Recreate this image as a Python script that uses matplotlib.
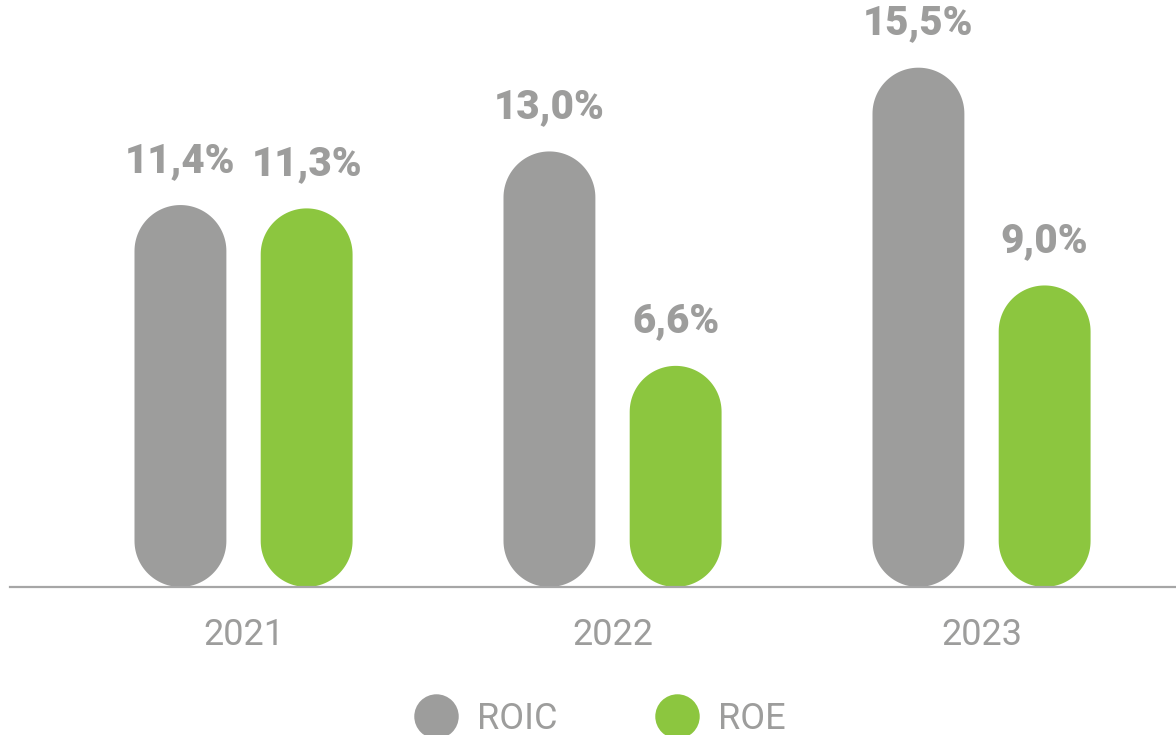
import matplotlib.pyplot as plt
from matplotlib.patches import Polygon
from matplotlib.lines import Line2D
import numpy as np

years = ["2021", "2022", "2023"]
roic = [11.4, 13.0, 15.5]
roe = [11.3, 6.6, 9.0]
roic_labels = ["11,4%", "13,0%", "15,5%"]
roe_labels = ["11,3%", "6,6%", "9,0%"]

GRAY = "#9d9d9c"
GREEN = "#8cc63f"
TEXT = "#9d9d9c"

W, H = 1176, 735
fig = plt.figure(figsize=(W / 100, H / 100), dpi=100)
ax = fig.add_axes([0, 0, 1, 1])
x0, x1 = -0.66, 2.527
y0, y1 = -4.418, 17.52
ax.set_xlim(x0, x1)
ax.set_ylim(y0, y1)
ax.axis("off")

# pixels per data unit, used to make the ends true half circles
px_x = W / (x1 - x0)
px_y = H / (y1 - y0)

width = 0.249
off = 0.171
x = np.arange(len(years))


def pill(xc, val, color):
    r = width / 2
    ry = r * px_x / px_y
    t = np.linspace(0, np.pi, 60)
    top = np.column_stack([xc + r * np.cos(t), val - ry + ry * np.sin(t)])
    bot = np.column_stack([xc - r * np.cos(t), ry - ry * np.sin(t)])
    ax.add_patch(Polygon(np.vstack([top, bot]), closed=True, fc=color,
                         ec="none", zorder=2))


lab = dict(textcoords="offset points", ha="center", va="baseline",
           fontsize=29, fontweight="black", family="Roboto", color=TEXT)
for i in range(len(years)):
    pill(x[i] - off, roic[i], GRAY)
    pill(x[i] + off, roe[i], GREEN)
    ax.annotate(roic_labels[i], (x[i] - off, roic[i]), xytext=(0, 24), **lab)
    ax.annotate(roe_labels[i], (x[i] + off, roe[i]), xytext=(0, 24), **lab)
    ax.annotate(years[i], (x[i], 0), xytext=(0, -42),
                textcoords="offset points", ha="center", va="baseline",
                fontsize=26, fontweight="normal", family="Roboto", color=TEXT)

ax.axhline(0, xmin=10 / W, xmax=1, color="#a6a6a6", lw=1.6, zorder=3)

handles = [Line2D([], [], marker="o", ls="none", ms=32, mfc=GRAY, mec="none"),
           Line2D([], [], marker="o", ls="none", ms=32, mfc=GREEN, mec="none")]
leg = fig.legend(handles, ["ROIC", "ROE"], loc="center", ncol=2,
                 bbox_to_anchor=(600 / W, 16 / H), frameon=False,
                 handletextpad=0.55, columnspacing=2.7, handlelength=1.2,
                 prop={"family": "Roboto", "weight": "normal", "size": 26})
for t in leg.get_texts():
    t.set_color(TEXT)

fig.savefig("out.png", dpi=100)
